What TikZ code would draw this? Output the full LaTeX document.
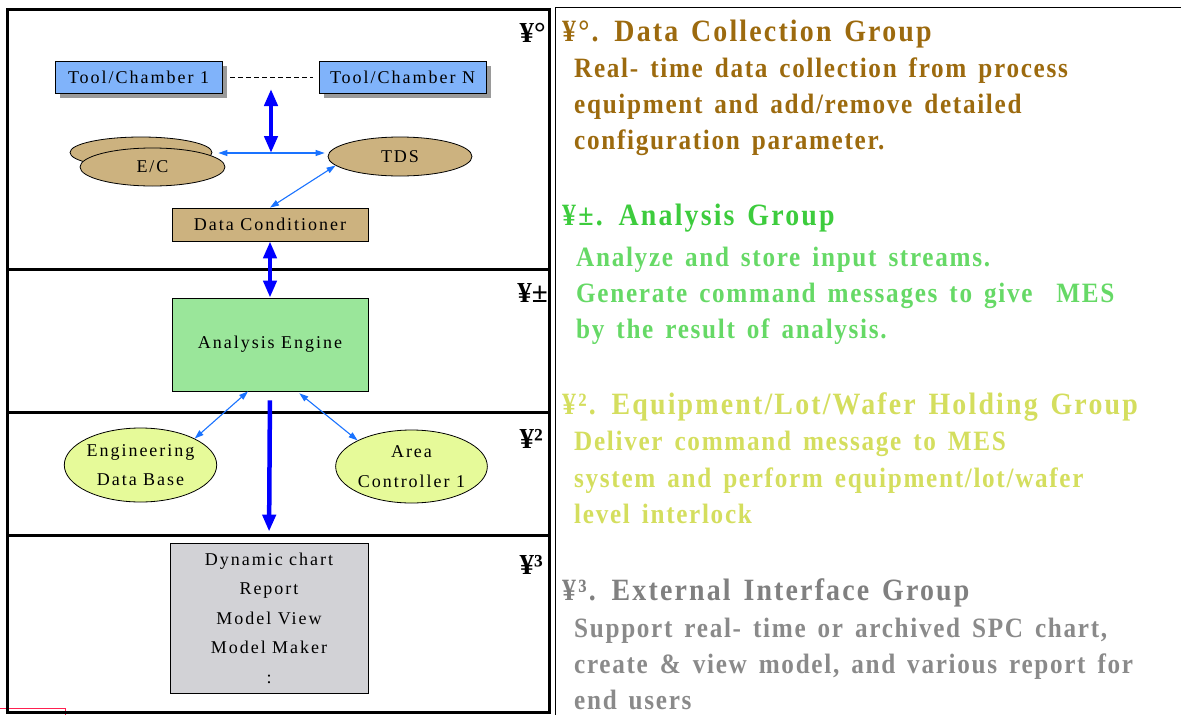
\documentclass[tikz,border=0pt]{standalone}
\usepackage{fontspec}
\setmainfont{Liberation Serif}
\newfontfamily\boxfont[LetterSpace=11]{Liberation Serif}
\newfontfamily\notefont[LetterSpace=6, WordSpace=1.5, FakeStretch=0.9]{Liberation Serif}
\newfontfamily\headfont[LetterSpace=7, WordSpace=1.4, FakeStretch=0.9]{Liberation Serif}
\usetikzlibrary{arrows.meta,shapes.geometric,shadows}

\definecolor{toolblue}{HTML}{80B3FA}
\definecolor{tanfill}{HTML}{CCB27F}
\definecolor{enginegreen}{HTML}{9AE69A}
\definecolor{baseyellow}{HTML}{E6FA99}
\definecolor{reportgray}{HTML}{D2D2D6}
\definecolor{shadowgray}{HTML}{9A9A9A}
\definecolor{busblue}{HTML}{0000FF}
\definecolor{linkblue}{HTML}{1A73FF}
\definecolor{collectbrown}{HTML}{9C6A0E}
\definecolor{analysisgreen}{HTML}{3DCC3D}
\definecolor{analysislight}{HTML}{66D966}
\definecolor{holdyellow}{HTML}{D4DE5E}
\definecolor{extgray}{HTML}{808080}
\definecolor{extlight}{HTML}{8A8A8A}
\definecolor{markred}{HTML}{FF2050}

\begin{document}
\begin{tikzpicture}[
    x=1pt, y=-1pt,
    bigtip/.tip={Triangle[length=17pt, width=13pt]},
    smalltip/.tip={Triangle[length=9pt, width=6pt]},
    boxlabel/.style={font=\boxfont\fontsize{18}{29.5}\selectfont, align=center, inner sep=0pt},
    toolbox/.style={
        boxlabel, draw=black, fill=toolblue,
        minimum width=167pt, minimum height=32pt,
        drop shadow={shadow xshift=5pt, shadow yshift=-5pt, fill=shadowgray, opacity=1}
    },
    plainbox/.style={boxlabel, draw=black, line width=0.8pt},
    blob/.style={boxlabel, ellipse, draw=black, line width=0.8pt},
    busline/.style={line width=4.5pt, draw=busblue},
    linkline/.style={line width=1.1pt, draw=linkblue},
    tag/.style={font=\bfseries\fontsize{29}{29}\selectfont, anchor=base east, inner sep=0pt},
    notehead/.style={font=\headfont\bfseries\fontsize{31}{31}\selectfont, anchor=base west, inner sep=0pt},
    notebody/.style={font=\notefont\bfseries\fontsize{28}{28}\selectfont, anchor=base west, inner sep=0pt}
]
\useasboundingbox (0,0) rectangle (1181,715);

% Rahmen und Trennlinien
\draw[markred, line width=1pt] (0,708) -- (65,708) -- (65,715);
\draw[line width=3pt] (7,9) rectangle (549,712);
\foreach \y in {269,412,535}
    \draw[line width=3pt] (7,\y) -- (549,\y);
\draw[line width=0.8pt] (555,715) -- (555,7) -- (1181,7);

% Gruppenmarken
\node[tag] (tag1) at (546,42) {¥°};
\node[tag] (tag2) at (548,302) {¥±};
\node[tag] (tag3) at (543,448) {¥²};
\node[tag] (tag4) at (543,574) {¥³};

% Datenerfassung
\node[toolbox] (tool1) at (138.5,77) {Tool/Chamber 1};
\node[toolbox] (toolN) at (402.5,77) {Tool/Chamber N};
\node[blob, fill=tanfill, minimum width=142pt, minimum height=31pt] (ecback) at (141,152.5) {};
\node[blob, fill=tanfill, minimum width=145pt, minimum height=38pt] (ec) at (152.5,167) {E/C};
\node[blob, fill=tanfill, minimum width=144pt, minimum height=39pt] (tds) at (400,156.5) {TDS};
\node[plainbox, fill=tanfill, minimum width=196pt, minimum height=33pt] (cond) at (270,224.5) {Data Conditioner};

\coordinate (bustop) at (271,89);
\coordinate (junction) at (271,153);

\draw[dash pattern=on 5pt off 3pt, line width=0.8pt, shorten <=8pt, shorten >=6pt] (tool1.east) -- (toolN.west);
\draw[busline, bigtip-bigtip] (bustop) -- (junction);
\draw[linkline, smalltip-smalltip, shorten <=6pt, shorten >=3pt] (ecback.east |- junction) -- (tds.west |- junction);
\draw[linkline, smalltip-smalltip] (tds.188) -- (cond.north);

% Analyse
\node[plainbox, fill=enginegreen, minimum width=196pt, minimum height=93pt] (engine) at (270,344.5) {Analysis Engine};
\draw[busline, bigtip-bigtip] (cond.south) -- (engine.north);

% Halten
\node[blob, fill=baseyellow, minimum width=145pt, minimum height=74pt] (edb) at (140.5,465) {Engineering\\Data Base};
\node[blob, fill=baseyellow, minimum width=145pt, minimum height=73pt] (area) at (411.5,466.5) {Area\\Controller 1};
\draw[linkline, smalltip-smalltip] ([xshift=-22pt]engine.south) -- (edb.north east);
\draw[linkline, smalltip-smalltip, shorten <=3pt] ([xshift=27pt]engine.south) -- (area.north west);

% Externe Schnittstelle
\node[plainbox, fill=reportgray, minimum width=198pt, minimum height=150pt] (report) at (269,618)
    {Dynamic chart\\Report\\Model View\\Model Maker\\:};
\draw[busline, -bigtip, shorten <=9pt, shorten >=11pt] (engine.south) -- (report.north);

% Beschreibungen
\node[notehead, text=collectbrown] (head1) at (562,41) {¥°. Data Collection Group};
\foreach \txt [count=\i] in {Real- time data collection from process, equipment and add/remove detailed, configuration parameter.}
    \node[notebody, text=collectbrown] (note1-\i) at (574,41+36*\i) {\txt};

\node[notehead, text=analysisgreen] (head2) at (562,225) {¥±. Analysis Group};
\foreach \txt [count=\i] in {Analyze and store input streams., Generate command messages to give~ MES, by the result of analysis.}
    \node[notebody, text=analysislight] (note2-\i) at (576,230+36*\i) {\txt};

\node[notehead, text=holdyellow] (head3) at (562,414) {¥². Equipment/Lot/Wafer Holding Group};
\foreach \txt [count=\i] in {Deliver command message to MES, system and perform equipment/lot/wafer, level interlock}
    \node[notebody, text=holdyellow] (note3-\i) at (574,414+36.5*\i) {\txt};

\node[notehead, text=extgray] (head4) at (562,600) {¥³. External Interface Group};
\foreach \txt [count=\i] in {{Support real- time or archived SPC chart,}, {create \& view model, and various report for}, end users}
    \node[notebody, text=extlight] (note4-\i) at (574,601+36*\i) {\txt};

\end{tikzpicture}
\end{document}
